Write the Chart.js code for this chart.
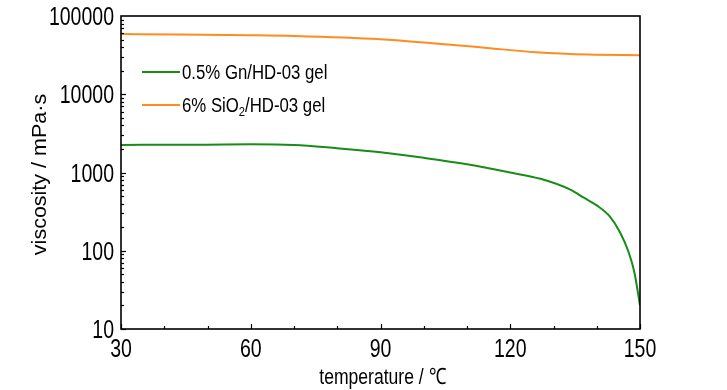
<!DOCTYPE html>
<html>
<head>
<meta charset="utf-8">
<script src="https://cdn.jsdelivr.net/npm/chart.js@4.4.1/dist/chart.umd.min.js"></script>
<style>
    html, body { margin: 0; padding: 0; background: #fff; }
    #wrap { width: 727px; height: 390px; }
</style>
</head>
<body>
<div id="wrap"><canvas id="viscChart"></canvas></div>
<script>
// temperature (°C) and viscosity (mPa·s)
const gnTemps = [30, 40, 50, 60, 70, 80, 90, 100, 110, 120, 127, 134, 137, 140, 143, 145.4, 147.4, 148.7, 150];
const gnVisc = [2250, 2260, 2270, 2290, 2250, 2040, 1815, 1540, 1275, 1000, 830, 600, 476, 380, 275, 171, 95, 53, 20];
const siTemps = [30, 43, 60, 70, 90, 102, 114, 126, 138, 150];
const siVisc = [59000, 58000, 56800, 55600, 50500, 44900, 39400, 34400, 32100, 31600];
const xTicks = [30, 60, 90, 120, 150];
const yTicks = [10, 100, 1000, 10000, 100000];
const seriesNames = ['0.5% Gn/HD-03 gel', '6% SiO₂/HD-03 gel'];
const xTitle = 'temperature / ℃';
const yTitle = 'viscosity / mPa·s';

const FONT = "'Liberation Sans', Arial, sans-serif";
const SQUEEZE = 0.78; // the original text is horizontally narrow

function toPoints(xs, ys) {
    return xs.map((x, i) => ({ x: x, y: ys[i] }));
}

// draw text narrowed horizontally
function narrowText(ctx, text, x, y, size, align) {
    ctx.save();
    ctx.translate(x, y);
    ctx.scale(SQUEEZE, 1);
    ctx.font = size + 'px ' + FONT;
    ctx.textAlign = align;
    ctx.textBaseline = 'alphabetic';
    ctx.fillText(text, 0, 0);
    ctx.restore();
}

// label with a subscript "₂"
function legendText(ctx, text, x, y, size) {
    ctx.save();
    ctx.translate(x, y);
    ctx.scale(0.86, 1);
    ctx.textAlign = 'left';
    ctx.textBaseline = 'alphabetic';
    let cx = 0;
    text.split(/(₂)/).forEach(part => {
        if (part === '₂') {
            ctx.font = Math.round(size * 0.65) + 'px ' + FONT;
            ctx.fillText('2', cx, size * 0.22);
            cx += ctx.measureText('2').width;
        } else if (part) {
            ctx.font = size + 'px ' + FONT;
            ctx.fillText(part, cx, 0);
            cx += ctx.measureText(part).width;
        }
    });
    ctx.restore();
}

// inward ticks, frame, tick labels, titles and in-plot legend
const framePlugin = {
    id: 'frame',
    afterDraw(chart) {
        const ctx = chart.ctx;
        const area = chart.chartArea;
        const xs = chart.scales.x;
        const ys = chart.scales.y;
        ctx.save();
        ctx.strokeStyle = '#000';
        ctx.fillStyle = '#000';
        ctx.lineWidth = 1.2;
        // x ticks: major every 30, minor every 10
        for (let t = 30; t <= 150; t += 10) {
            const px = Math.round(xs.getPixelForValue(t)) + 0.5;
            const len = (t % 30 === 0) ? 5 : 3;
            ctx.beginPath();
            ctx.moveTo(px, area.bottom);
            ctx.lineTo(px, area.bottom - len);
            ctx.stroke();
        }
        // y ticks: decades + minor 2..9
        for (let d = 10; d < 100000; d *= 10) {
            for (let m = 1; m <= 9; m++) {
                const py = Math.round(ys.getPixelForValue(d * m)) + 0.5;
                const len = m === 1 ? 5 : 3;
                ctx.beginPath();
                ctx.moveTo(area.left, py);
                ctx.lineTo(area.left + len, py);
                ctx.stroke();
            }
        }
        // frame
        ctx.lineWidth = 1.6;
        ctx.strokeRect(area.left, area.top, area.right - area.left, area.bottom - area.top);

        // tick labels
        xs.ticks.forEach(t => {
            narrowText(ctx, String(t.value), xs.getPixelForValue(t.value), area.bottom + 28, 25, 'center');
        });
        ys.ticks.forEach(t => {
            narrowText(ctx, String(t.value), area.left - 7, ys.getPixelForValue(t.value) + 9, 25, 'right');
        });

        // axis titles
        narrowText(ctx, xTitle, (area.left + area.right) / 2 + 2, 384, 22.5, 'center');
        ctx.save();
        ctx.translate(46, (area.top + area.bottom) / 2 + 2);
        ctx.rotate(-Math.PI / 2);
        ctx.scale(1, 0.9);
        ctx.font = '21.5px ' + FONT;
        ctx.textAlign = 'center';
        ctx.textBaseline = 'alphabetic';
        ctx.fillText(yTitle, 0, 0);
        ctx.restore();

        // legend
        const lx = area.left + 21;
        let ly = area.top + 56;
        chart.data.datasets.forEach(ds => {
            ctx.strokeStyle = ds.borderColor;
            ctx.lineWidth = 2;
            ctx.beginPath();
            ctx.moveTo(lx, ly);
            ctx.lineTo(lx + 38, ly);
            ctx.stroke();
            legendText(ctx, ds.label, lx + 40, ly + 7, 19.5);
            ly += 33;
        });
        ctx.restore();
    }
};

const config = {
    type: 'line',
    data: {
        datasets: [
            {
                label: seriesNames[0],
                data: toPoints(gnTemps, gnVisc),
                borderColor: '#178c17',
                borderWidth: 2,
                pointRadius: 0,
                cubicInterpolationMode: 'monotone'
            },
            {
                label: seriesNames[1],
                data: toPoints(siTemps, siVisc),
                borderColor: '#ff8c1e',
                borderWidth: 2,
                pointRadius: 0,
                cubicInterpolationMode: 'monotone'
            }
        ]
    },
    options: {
        responsive: true,
        maintainAspectRatio: false,
        devicePixelRatio: 1,
        animation: false,
        layout: { padding: { top: 16, right: 87, left: 0, bottom: 0 } },
        plugins: {
            legend: { display: false },
            tooltip: { enabled: false }
        },
        scales: {
            x: {
                type: 'linear',
                min: 30,
                max: 150,
                afterBuildTicks: scale => { scale.ticks = xTicks.map(v => ({ value: v })); },
                afterFit: scale => { scale.height = 61; },
                grid: { display: false, drawTicks: false },
                border: { display: false },
                ticks: { display: false }
            },
            y: {
                type: 'logarithmic',
                min: 10,
                max: 100000,
                afterBuildTicks: scale => { scale.ticks = yTicks.map(v => ({ value: v })); },
                afterFit: scale => { scale.width = 121; },
                grid: { display: false, drawTicks: false },
                border: { display: false },
                ticks: { display: false }
            }
        }
    },
    plugins: [framePlugin]
};

const viscChart = new Chart(document.getElementById('viscChart'), config);
</script>
</body>
</html>
